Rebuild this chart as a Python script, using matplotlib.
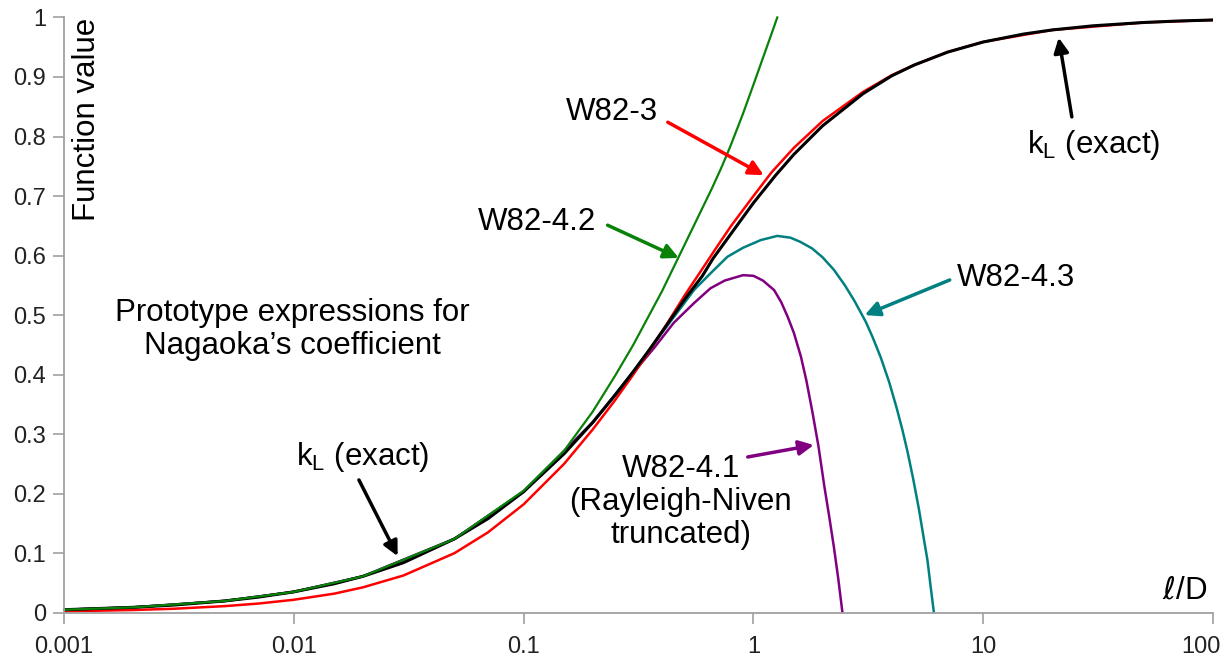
import numpy as np
import matplotlib.pyplot as plt
from matplotlib.transforms import ScaledTranslation

plt.rcParams['font.family'] = ['Liberation Sans', 'DejaVu Sans']
plt.rcParams['mathtext.default'] = 'regular'

# k_L (exact)
x_exact = [0.001, 0.002, 0.003, 0.005, 0.007, 0.01, 0.015, 0.02, 0.03, 0.05, 0.07, 0.1,
           0.15, 0.2, 0.25, 0.3, 0.35, 0.4, 0.5, 0.6, 0.667, 0.8, 1, 1.25, 1.5, 2, 3, 4, 5, 7,
           10, 15, 20, 30, 50, 70, 100]
y_exact = [0.0050, 0.0090, 0.0128, 0.0197, 0.0261, 0.0350, 0.0486, 0.0611, 0.084, 0.124, 0.158,
           0.2033, 0.267, 0.3198, 0.3654, 0.405, 0.440, 0.472, 0.5255, 0.566, 0.595, 0.637, 0.6884,
           0.735, 0.770, 0.818, 0.872, 0.902, 0.920, 0.9418, 0.9588, 0.9722, 0.9791, 0.9860,
           0.9916, 0.9940, 0.9958]

# W82-3
x_w3 = [0.001, 0.002, 0.003, 0.005, 0.007, 0.01, 0.015, 0.02, 0.03, 0.05, 0.07, 0.1, 0.15, 0.2,
        0.25, 0.3, 0.35, 0.4, 0.5, 0.6, 0.7, 0.8, 1, 1.2, 1.5, 2, 3, 4, 5, 7, 10, 20, 50, 100]
y_w3 = [0.0022, 0.0045, 0.0066, 0.011, 0.0153, 0.0217, 0.032, 0.0426, 0.0625, 0.100, 0.135, 0.182,
        0.250, 0.308, 0.357, 0.400, 0.438, 0.472, 0.532, 0.578, 0.617, 0.650, 0.700, 0.740, 0.781,
        0.826, 0.875, 0.903, 0.920, 0.942, 0.959, 0.979, 0.9916, 0.9958]

# W82-4.2
x_w42 = [0.001, 0.002, 0.005, 0.01, 0.02, 0.05, 0.1, 0.15, 0.2, 0.25, 0.3, 0.4, 0.476, 0.6,
         0.66, 0.72, 0.76, 0.8, 0.9, 1.0, 1.1, 1.2, 1.27]
y_w42 = [0.0050, 0.0090, 0.0197, 0.0350, 0.0611, 0.124, 0.205, 0.272, 0.338, 0.398, 0.450, 0.540,
         0.600, 0.680, 0.713, 0.745, 0.766, 0.787, 0.838, 0.887, 0.932, 0.973, 1.0]

# W82-4.3
x_w43 = [0.001, 0.002, 0.005, 0.01, 0.02, 0.05, 0.1, 0.2, 0.3, 0.35, 0.4, 0.437, 0.5, 0.551,
         0.65, 0.771, 0.9, 1.076, 1.27, 1.45, 1.6, 1.8, 2.0, 2.24, 2.5, 2.75, 3.08, 3.3, 3.58,
         3.9, 4.2, 4.45, 4.68, 4.95, 5.25, 5.5, 5.72, 5.9, 6.1]
y_w43 = [0.0050, 0.0090, 0.0197, 0.0350, 0.0611, 0.124, 0.2033, 0.3198, 0.405, 0.440, 0.470,
         0.490, 0.520, 0.542, 0.570, 0.598, 0.613, 0.626, 0.633, 0.630, 0.623, 0.612, 0.597,
         0.576, 0.550, 0.524, 0.489, 0.463, 0.429, 0.387, 0.344, 0.307, 0.271, 0.226, 0.174,
         0.127, 0.088, 0.045, 0.0]

# W82-4.1 (Rayleigh-Niven truncated)
x_w41 = [0.001, 0.002, 0.005, 0.01, 0.02, 0.05, 0.1, 0.2, 0.3, 0.37, 0.45, 0.551, 0.65, 0.75,
         0.9, 1.0, 1.1, 1.23, 1.32, 1.41, 1.5, 1.61, 1.7, 1.81, 1.92, 2.03, 2.14, 2.24, 2.34, 2.44]
y_w41 = [0.0050, 0.0090, 0.0197, 0.0350, 0.0611, 0.124, 0.2033, 0.3198, 0.403, 0.445, 0.487,
         0.520, 0.545, 0.558, 0.567, 0.566, 0.558, 0.542, 0.522, 0.497, 0.470, 0.430, 0.390,
         0.335, 0.279, 0.215, 0.160, 0.110, 0.057, 0.0]

x_ticks = [0.001, 0.01, 0.1, 1, 10, 100]
x_ticklabels = ['0.001', '0.01', '0.1', '1', '10', '100']
y_ticks = [0, 0.1, 0.2, 0.3, 0.4, 0.5, 0.6, 0.7, 0.8, 0.9, 1]
y_ticklabels = ['0', '0.1', '0.2', '0.3', '0.4', '0.5', '0.6', '0.7', '0.8', '0.9', '1']

RED = '#ff0000'
GREEN = '#0a820a'
TEAL = '#008080'
PURPLE = '#800080'

fig = plt.figure(figsize=(12.29, 6.62), dpi=100)
ax = fig.add_axes([0.0521, 0.0745, 0.9349, 0.8991])

ax.plot(x_w43, y_w43, color=TEAL, lw=1.8)
ax.plot(x_w41, y_w41, color=PURPLE, lw=1.8)
ax.plot(x_w3, y_w3, color=RED, lw=1.8)
ax.plot(x_exact, y_exact, color='black', lw=2.2)
ax.plot(x_w42, y_w42, color=GREEN, lw=1.6, clip_on=False)

ax.set_xscale('log')
ax.set_xlim(0.001, 100)
ax.set_ylim(0, 1)
ax.set_xticks(x_ticks)
ax.set_xticklabels(x_ticklabels)
ax.set_yticks(y_ticks)
ax.set_yticklabels(y_ticklabels)
ax.xaxis.set_minor_locator(plt.NullLocator())

for s in ['top', 'right']:
    ax.spines[s].set_visible(False)
for s in ['left', 'bottom']:
    ax.spines[s].set_color('#a0a0a0')
    ax.spines[s].set_linewidth(1.3)
ax.tick_params(axis='both', direction='out', length=8, width=1.2, color='#a0a0a0',
               labelsize=17, labelcolor='#222222')
ax.tick_params(axis='x', pad=9)
ax.tick_params(axis='y', pad=5)

# keep the last x label inside the figure
last = ax.get_xticklabels()[-1]
last.set_ha('right')
last.set_transform(last.get_transform() + ScaledTranslation(0.08, 0, fig.dpi_scale_trans))

fs = 22.5
ax.text(0.007, 1.0, 'Function value', transform=ax.transAxes, rotation=90,
        ha='left', va='top', fontsize=fs)
ax.text(0.00989, 0.476, 'Prototype expressions for\nNagaoka\u2019s coefficient',
        ha='center', va='center', fontsize=fs, linespacing=1.15)
ax.text(75.4, 0.038, r'$\mathit{\ell}$/D', ha='center', va='center', fontsize=fs)


def label(txt, pos, start, tip, color, **kw):
    ax.text(pos[0], pos[1], txt, ha='center', va='center', fontsize=fs, **kw)
    ax.annotate('', xy=tip, xytext=start,
                arrowprops=dict(arrowstyle='-|>', color=color, lw=2.5,
                                mutation_scale=22, shrinkA=0, shrinkB=0))


label('W82-3', (0.243, 0.841), (0.424, 0.824), (1.109, 0.735), RED)
label('W82-4.2', (0.114, 0.656), (0.232, 0.651), (0.473, 0.596), GREEN)
label('k$_L$ (exact)', (0.01995, 0.262), (0.0192, 0.223), (0.0283, 0.095), 'black')
label('k$_L$ (exact)', (30.3, 0.786), (24.3, 0.833), (21.3, 0.966), 'black')
label('W82-4.3', (13.85, 0.562), (7.15, 0.559), (3.05, 0.500), TEAL)
label('W82-4.1\n(Rayleigh-Niven\ntruncated)', (0.483, 0.186), (0.9445, 0.2616), (1.83, 0.2817),
      PURPLE, linespacing=1.15)

fig.savefig('out.png', dpi=100)
